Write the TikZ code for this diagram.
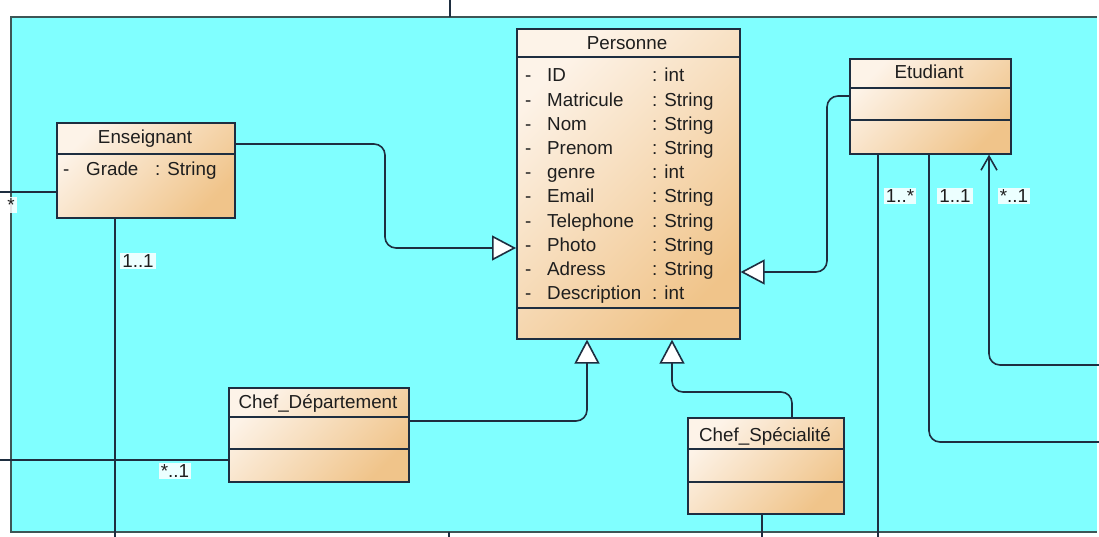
\documentclass[tikz,border=0pt]{standalone}
\usepackage{fontspec}
\setmainfont{Liberation Sans}
\usetikzlibrary{arrows.meta}
\definecolor{bgcyan}{HTML}{80FFFF}
\definecolor{boxlight}{HTML}{FDF3E8}
\definecolor{boxdark}{HTML}{F0C48A}
\definecolor{wire}{HTML}{1E2E40}
\definecolor{framec}{HTML}{3E5656}
\definecolor{ink}{HTML}{1E1E1E}

\begin{document}
\begin{tikzpicture}[x=1pt,y=-1pt,
  classbox/.style={draw=wire, line width=1.6pt, top color=boxlight, bottom color=boxdark,
                   shading angle=45, inner sep=0pt, anchor=north west},
  divider/.style={draw=wire, line width=1.6pt},
  txt/.style={font=\fontsize{18.8}{20}\selectfont, text=ink, inner sep=0pt},
  wirestyle/.style={draw=wire, line width=1.6pt, rounded corners=11pt},
  gen/.style={wirestyle, -{Triangle[open, length=24pt, width=25pt, fill=white]}},
  nav/.style={wirestyle, -{Straight Barb[length=14pt, width=16pt]}},
  mult/.style={txt, fill=white, fill opacity=0.85, text opacity=1, inner sep=2pt},
]
\useasboundingbox (0,0) rectangle (1099,537);

% package frame
\fill[bgcyan] (11,17) rectangle (1097,532);
\draw[framec, line width=1.8pt] (1097,17) -- (11,17) -- (11,532) -- (1097,532);

% classes
\node[classbox, minimum width=178pt, minimum height=95pt]  (ens)   at (56,122)  {};
\node[classbox, minimum width=223pt, minimum height=310pt] (pers)  at (516,28)  {};
\node[classbox, minimum width=161pt, minimum height=95pt]  (etu)   at (849,58)  {};
\node[classbox, minimum width=180pt, minimum height=94pt]  (cdep)  at (228,387) {};
\node[classbox, minimum width=156pt, minimum height=96pt]  (cspec) at (687,417) {};

% compartment lines
\draw[divider] (ens.west |- 0,154) -- (ens.east |- 0,154);
\draw[divider] (pers.west |- 0,57) -- (pers.east |- 0,57);
\draw[divider] (pers.west |- 0,308) -- (pers.east |- 0,308);
\draw[divider] (etu.west |- 0,88) -- (etu.east |- 0,88);
\draw[divider] (etu.west |- 0,120) -- (etu.east |- 0,120);
\draw[divider] (cdep.west |- 0,417) -- (cdep.east |- 0,417);
\draw[divider] (cdep.west |- 0,449) -- (cdep.east |- 0,449);
\draw[divider] (cspec.west |- 0,449) -- (cspec.east |- 0,449);
\draw[divider] (cspec.west |- 0,482) -- (cspec.east |- 0,482);

% class names
\node[txt, anchor=base] (ensT)   at (145,144) {Enseignant};
\node[txt, anchor=base] (persT)  at (627,50)  {Personne};
\node[txt, anchor=base] (etuT)   at (929,79)  {Etudiant};
\node[txt, anchor=base] (cdepT)  at (318,408) {Chef\_Département};
\node[txt, anchor=base] (cspecT) at (765,441) {Chef\_Spécialité};

% attributes
\node[txt, anchor=base west] (ensA1) at (63,176)  {-};
\node[txt, anchor=base west] (ensA2) at (86,176)  {Grade};
\node[txt, anchor=base west] (ensA3) at (155,176) {: String};

\foreach \n/\t [count=\i from 0] in {ID/int, Matricule/String, Nom/String, Prenom/String,
    genre/int, Email/String, Telephone/String, Photo/String, Adress/String, Description/int}{
  \node[txt, anchor=base west] (pd\i) at (525,82+24.2*\i) {-};
  \node[txt, anchor=base west] (pn\i) at (547,82+24.2*\i) {\n};
  \node[txt, anchor=base west] (pt\i) at (652,82+24.2*\i) {: \t};
}

% generalisations
\draw[gen] (ens.east |- 0,144) -- (385,144) -- (385,248) -- (pers.west |- 0,248);
\draw[gen] (etu.west |- 0,96) -- (827,96) -- (827,272) -- (pers.east |- 0,272);
\draw[gen] (cdep.east |- 0,421) -- (587,421) -- (pers.south -| 587,0);
\draw[gen] (cspec.north -| 792,0) -- (792,392) -- (672,392) -- (pers.south -| 672,0);

% associations leaving the package
\coordinate (topOut)    at (450,0);
\coordinate (topIn)     at (450,17);
\coordinate (botIn)     at (449,532);
\coordinate (botOut)    at (449,537);
\coordinate (ensOutL)   at (0,192);
\coordinate (ensOutB)   at (115,537);
\coordinate (cdepOutL)  at (0,460);
\coordinate (cspecOutB) at (762,537);
\coordinate (etuOutA)   at (878,537);
\coordinate (etuOutB)   at (1099,442);
\coordinate (etuOutC)   at (1099,365);

\draw[wirestyle] (topOut) -- (topIn);
\draw[wirestyle] (botIn) -- (botOut);
\draw[wirestyle] (ens.west |- ensOutL) -- (ensOutL);
\draw[wirestyle] (ens.south -| ensOutB) -- (ensOutB);
\draw[wirestyle] (cdep.west |- cdepOutL) -- (cdepOutL);
\draw[wirestyle] (cspec.south -| cspecOutB) -- (cspecOutB);
\draw[wirestyle] (etu.south -| etuOutA) -- (etuOutA);
\draw[wirestyle] (etu.south -| 929,0) -- (929,442) -- (etuOutB);
\draw[nav] (etuOutC) -- (989,365) -- (etu.south -| 989,0);

% multiplicities
\node[mult] (mEnsL) at (11,205)  {*};
\node[mult] (mEnsB) at (138,261) {1..1};
\node[mult] (mCdep) at (175,471) {*..1};
\node[mult] (mEtuA) at (900,196) {1..*};
\node[mult] (mEtuB) at (955,196) {1..1};
\node[mult] (mEtuC) at (1014,196) {*..1};
\end{tikzpicture}
\end{document}
